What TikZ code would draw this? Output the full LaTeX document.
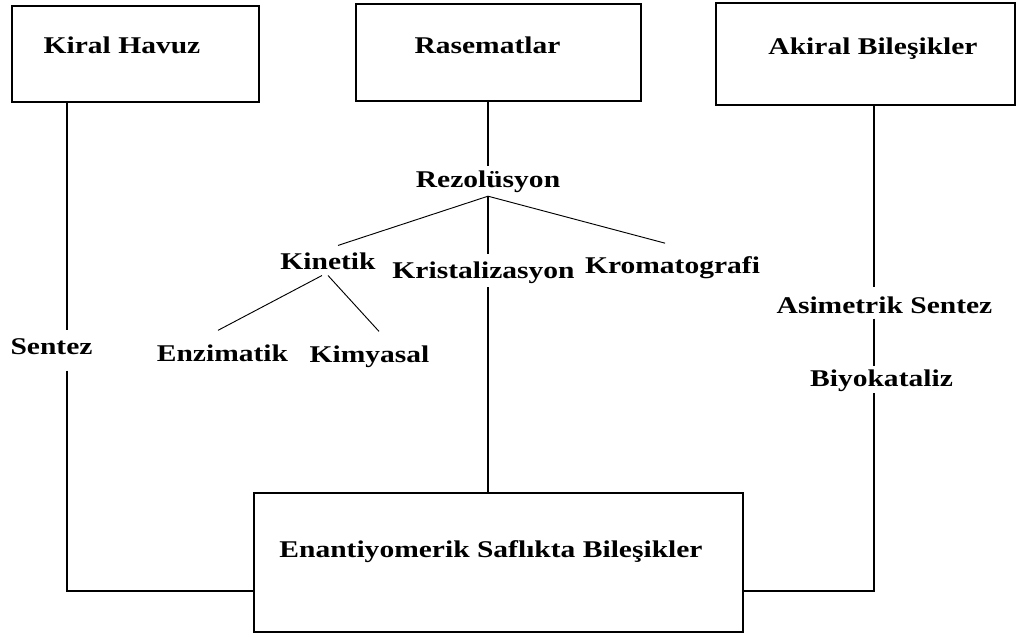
\documentclass[tikz,border=0pt]{standalone}
\usepackage{graphicx}
\usepackage{fontspec}
\setmainfont{Liberation Serif}
\usepackage{tikz}
\usetikzlibrary{positioning}

\newcommand{\wtxt}[1]{\scalebox{1.23}[1]{#1}}

\begin{document}
\begin{tikzpicture}[x=0.75pt,y=-0.75pt,
		box/.style={draw=black,line width=1.3pt,inner sep=0pt},
		lbl/.style={anchor=base,inner sep=0pt,font=\bfseries\fontsize{18}{21}\selectfont},
		conn/.style={draw=black,line width=1.1pt},
		branch/.style={draw=black,line width=0.7pt}]
	\useasboundingbox (0,0) rectangle (1017,637);

	% the four boxes
	\node[box,minimum width=185.25pt,minimum height=72pt] (kiral) at (135.5,54) {};
	\node[box,minimum width=213.75pt,minimum height=72.75pt] (ras) at (498.5,52.5) {};
	\node[box,minimum width=224.25pt,minimum height=76.5pt] (akiral) at (865.5,54) {};
	\node[box,minimum width=366.75pt,minimum height=104.25pt] (enan) at (498.5,562.5) {};

	\node[lbl] (kiraltxt) at (122,53) {\wtxt{Kiral Havuz}};
	\node[lbl] (rastxt) at (487.5,53) {\wtxt{Rasematlar}};
	\node[lbl] (akiraltxt) at (873,54) {\wtxt{Akiral Bileşikler}};
	\node[lbl] (enantxt) at (491,557) {\wtxt{Enantiyomerik Saflıkta Bileşikler}};

	% labels along the lines
	\node[lbl] (rez) at (488,187) {\wtxt{Rezolüsyon}};
	\node[lbl] (kin) at (328,269) {\wtxt{Kinetik}};
	\node[lbl] (krist) at (483.5,278) {\wtxt{Kristalizasyon}};
	\node[lbl] (krom) at (672.5,273) {\wtxt{Kromatografi}};
	\node[lbl] (enz) at (222.5,361) {\wtxt{Enzimatik}};
	\node[lbl] (kim) at (369.5,362) {\wtxt{Kimyasal}};
	\node[lbl] (sentez) at (51.5,354) {\wtxt{Sentez}};
	\node[lbl] (asim) at (884.5,313) {\wtxt{Asimetrik Sentez}};
	\node[lbl] (biyo) at (881.5,386) {\wtxt{Biyokataliz}};

	\coordinate (kcor) at (67,591);
	\coordinate (acor) at (874,591);

	% left path
	\draw[conn,shorten >=5.8pt] (kiral.south -| kcor) -- (sentez.north -| kcor);
	\draw[conn,shorten <=12pt] (sentez.south -| kcor) -- (kcor) -- (enan.west |- kcor);

	% middle path
	\draw[conn,shorten >=2.8pt] (ras.south -| rez) -- (rez.north);
	\draw[conn,shorten <=2.8pt,shorten >=5pt] (rez.south) -- (rez.south |- krist.north);
	\draw[conn,shorten <=2.8pt] (krist.south -| rez) -- (enan.north -| rez);
	\draw[branch] ([yshift=-2.8pt]rez.south) -- ([xshift=7.5pt,yshift=5pt]kin.north);
	\draw[branch] ([yshift=-2.8pt]rez.south) -- ([xshift=-5.6pt,yshift=9.5pt]krom.north);
	\draw[branch] ([xshift=-4.5pt,yshift=-4.5pt]kin.south) -- ([xshift=-3.4pt,yshift=10.3pt]enz.north);
	\draw[branch] ([yshift=-4.5pt]kin.south) -- ([xshift=7.1pt,yshift=10.3pt]kim.north);

	% right path
	\draw[conn,shorten >=6.5pt] (akiral.south -| acor) -- (asim.north -| acor);
	\draw[conn,shorten <=3.75pt,shorten >=2pt] (asim.south -| acor) -- (biyo.north -| acor);
	\draw[conn,shorten <=1.3pt] (biyo.south -| acor) -- (acor) -- (enan.east |- acor);
\end{tikzpicture}
\end{document}
